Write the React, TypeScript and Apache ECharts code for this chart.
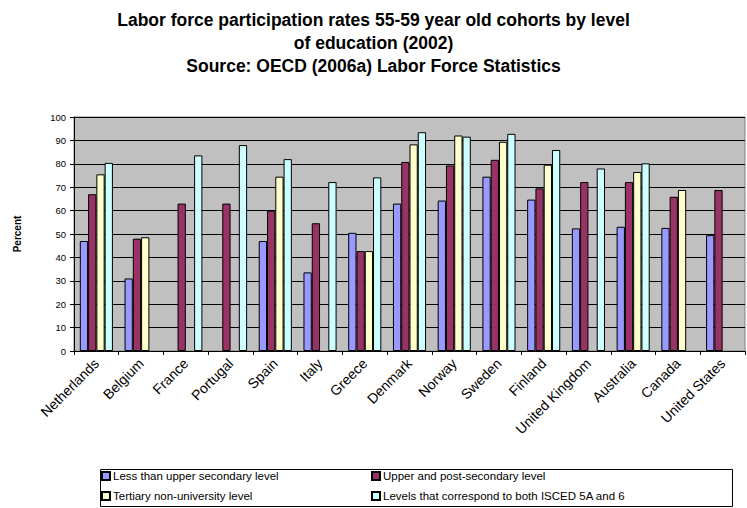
import React, { useEffect, useRef } from "react";
import * as echarts from "echarts";

const countries = [
  "Netherlands", "Belgium", "France", "Portugal", "Spain", "Italy", "Greece",
  "Denmark", "Norway", "Sweden", "Finland", "United Kingdom", "Australia", "Canada", "United States",
];
const lessThanUpperSecondary = [47, 31, null, null, 47, 33.6, 50.5, 63, 64.3, 74.5, 64.7, 52.4, 53.1, 52.6, 49.5];
const upperPostSecondary = [67, 48, 63, 63, 60, 54.6, 42.7, 80.8, 79.3, 81.7, 69.5, 72.2, 72.2, 65.9, 68.8];
const tertiaryNonUniversity = [75.5, 48.6, null, null, 74.5, null, 42.7, 88.3, 92.1, 89.4, 79.6, null, 76.5, 68.8, null];
const isced5A6 = [80.4, null, 83.6, 88, 82, 72.2, 74.2, 93.5, 91.6, 92.8, 85.9, 78, 80.2, null, null];

const seriesNames = [
  "Less than upper secondary level",
  "Upper and post-secondary level",
  "Tertiary non-university level",
  "Levels that correspond to both ISCED 5A and 6",
];
const seriesColors = ["#9999FF", "#993366", "#FFFFCC", "#CCFFFF"];
const yTicks = { min: 0, max: 100, interval: 10 };

export default function App() {
  const ref = useRef<HTMLDivElement>(null);
  useEffect(() => {
    if (!ref.current) return;
    const chart = echarts.init(ref.current, null, { renderer: "svg" });
    const values = [lessThanUpperSecondary, upperPostSecondary, tertiaryNonUniversity, isced5A6];
    const font = "Arial, 'Liberation Sans', sans-serif";
    const legendText = { fontSize: 11.5, color: "#000", lineHeight: 12, fontFamily: font, padding: [0, 0, 0, -2] };
    chart.setOption({
      animation: false,
      backgroundColor: "#ffffff",
      textStyle: { fontFamily: font },
      title: {
        text: "Labor force participation rates 55-59 year old cohorts by level\nof education (2002)\nSource: OECD (2006a) Labor Force Statistics",
        left: "center",
        top: 8,
        padding: 0,
        textStyle: { fontSize: 17.5, fontWeight: "bold", color: "#000", lineHeight: 23, fontFamily: font, align: "center" },
      },
      legend: [
        {
          data: [seriesNames[0], seriesNames[2]],
          orient: "vertical",
          left: 101,
          top: 470,
          itemGap: 8,
          itemWidth: 8,
          itemHeight: 8,
          icon: "rect",
          textStyle: legendText,
          padding: 0,
        },
        {
          data: [seriesNames[1], seriesNames[3]],
          orient: "vertical",
          left: 371,
          top: 470,
          itemGap: 8,
          itemWidth: 8,
          itemHeight: 8,
          icon: "rect",
          textStyle: legendText,
          padding: 0,
        },
      ],
      graphic: [
        {
          type: "rect",
          shape: { x: 100.5, y: 469.5, width: 632, height: 37 },
          style: { fill: "none", stroke: "#000", lineWidth: 1 },
          silent: true,
        },
      ],
      grid: {
        left: 74,
        right: 2,
        top: 117,
        bottom: 157,
        show: true,
        backgroundColor: "#C0C0C0",
        borderColor: "#808080",
        borderWidth: 1,
      },
      xAxis: {
        type: "category",
        data: countries,
        boundaryGap: true,
        axisLine: { lineStyle: { color: "#000", width: 1 } },
        axisTick: { show: true, length: 4, lineStyle: { color: "#000" } },
        axisLabel: { rotate: 45, fontSize: 14, color: "#000", margin: 10, interval: 0, fontFamily: font },
      },
      yAxis: {
        type: "value",
        min: yTicks.min,
        max: yTicks.max,
        interval: yTicks.interval,
        name: "Percent",
        nameLocation: "middle",
        nameRotate: 90,
        nameGap: 52,
        nameTextStyle: { fontSize: 10, fontWeight: "bold", color: "#000", fontFamily: font },
        axisLine: { show: true, lineStyle: { color: "#000", width: 1 } },
        axisTick: { show: true, length: 4, lineStyle: { color: "#000" } },
        axisLabel: { fontSize: 9.5, color: "#000", margin: 8, fontFamily: font },
        splitLine: { show: true, lineStyle: { color: "#000", width: 1 } },
      },
      series: seriesNames.map((name, i) => ({
        name,
        type: "bar",
        data: values[i],
        barGap: "0%",
        barCategoryGap: "26%",
        itemStyle: { color: seriesColors[i], borderColor: "#000", borderWidth: 1 },
      })),
    });
    return () => chart.dispose();
  }, []);
  return <div ref={ref} style={{ width: 747, height: 508, position: "absolute", left: 0, top: 0 }} />;
}
